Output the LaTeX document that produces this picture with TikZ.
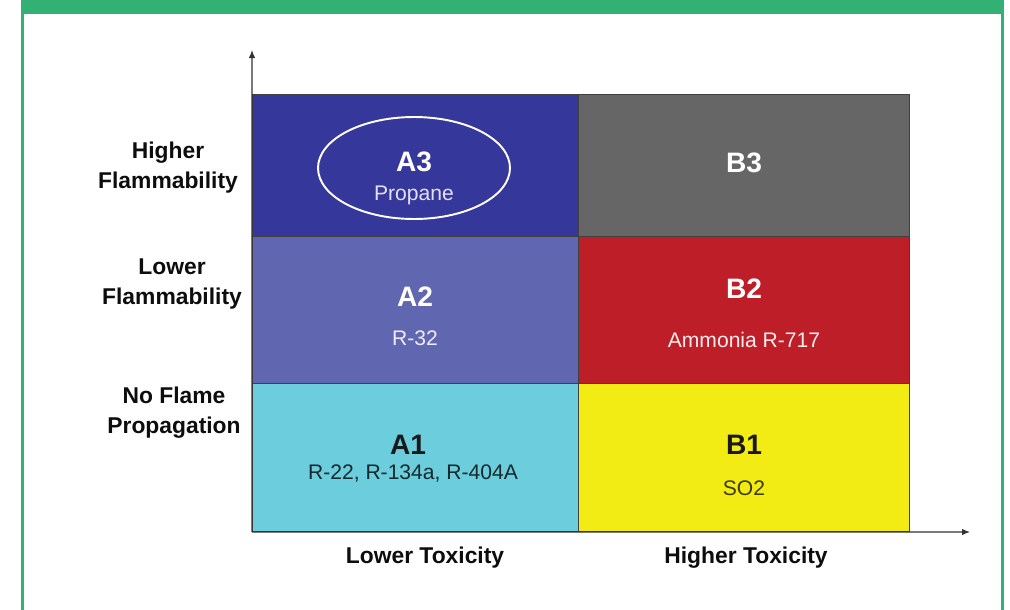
\documentclass[tikz,border=0pt]{standalone}
\usepackage{fontspec}
\setmainfont{Liberation Sans}
\usetikzlibrary{arrows.meta,positioning,shapes.geometric}
\usepackage{xcolor}
\definecolor{frgreen}{HTML}{33B074}
\definecolor{hzathree}{HTML}{35389A}
\definecolor{hzatwo}{HTML}{6066B0}
\definecolor{hzaone}{HTML}{6CCDDC}
\definecolor{hzbthree}{HTML}{666666}
\definecolor{hzbtwo}{HTML}{BE1E28}
\definecolor{hzbone}{HTML}{F2EB14}
\definecolor{lav}{HTML}{E4E0F4}

\begin{document}
\begin{tikzpicture}[x=0.02cm,y=-0.02cm,node distance=0pt,
    c/.style={draw=black!75,line width=0.5pt,inner sep=0pt,outer sep=0pt},
    cl/.style={font=\fontsize{16}{18}\selectfont\bfseries},
    sub/.style={font=\fontsize{12}{14}\selectfont},
    rl/.style={font=\fontsize{13}{17}\selectfont\bfseries,align=center,text=black!95},
    a/.style={-{Latex[length=1.6mm,width=1.3mm]},line width=0.7pt,black!80}]
    \useasboundingbox (0,0) rectangle (1010,609);
    \fill[frgreen] (21,-2) rectangle (1004,14);
    \draw[frgreen,line width=2.2pt] (22.5,10) -- (22.5,612);
    \draw[frgreen,line width=2.2pt] (1002.5,10) -- (1002.5,612);
    \node[c,fill=hzathree,minimum width=6.52cm,minimum height=2.84cm] (a3) at (415,165) {};
    \node[c,fill=hzbthree,minimum width=6.64cm,minimum height=2.84cm,right=of a3] (b3) {};
    \node[c,fill=hzatwo,minimum width=6.52cm,minimum height=2.94cm,below=of a3] (a2) {};
    \node[c,fill=hzbtwo,minimum width=6.64cm,minimum height=2.94cm,right=of a2] (b2) {};
    \node[c,fill=hzaone,minimum width=6.52cm,minimum height=2.98cm,below=of a2] (a1) {};
    \node[c,fill=hzbone,minimum width=6.64cm,minimum height=2.98cm,right=of a1] (b1) {};
    \node[draw=white,line width=1.1pt,ellipse,minimum width=3.84cm,minimum height=2.04cm] (ring) at (414,168) {};
    \node[cl,text=white] (a3l) at (414,162) {A3};
    \node[sub,text=lav] (a3s) at (414,195) {Propane};
    \node[cl,text=white] (b3l) at (744,163) {B3};
    \node[cl,text=white] (a2l) at (415,297) {A2};
    \node[sub,text=white!88!hzatwo] (a2s) at (415,338) {R-32};
    \node[cl,text=white] (b2l) at (744,289) {B2};
    \node[sub,text=white!92!hzbtwo] (b2s) at (744,340) {Ammonia R-717};
    \node[cl,text=black!90] (a1l) at (408,445) {A1};
    \node[sub,text=black!80!hzaone] (a1s) at (413,473) {R-22, R-134a, R-404A};
    \node[cl,text=black!90] (b1l) at (744,445) {B1};
    \node[sub,text=black!75!hzbone] (b1s) at (744,488) {SO2};
    \node[rl] (hf) at (168,168) {Higher\\Flammability};
    \node[rl] (lf) at (172,284) {Lower\\Flammability};
    \node[rl] (nf) at (174,413) {No Flame\\Propagation};
    \node[rl] (lt) at (425,558) {Lower Toxicity};
    \node[rl] (ht) at (746,558) {Higher Toxicity};
    \coordinate (o) at (a1.south west);
    \coordinate (ytip) at (252,50);
    \coordinate (xtip) at (970,532);
    \draw[a] (o) -- (ytip);
    \draw[a] (o) -- (xtip);
  \end{tikzpicture}
\end{document}
